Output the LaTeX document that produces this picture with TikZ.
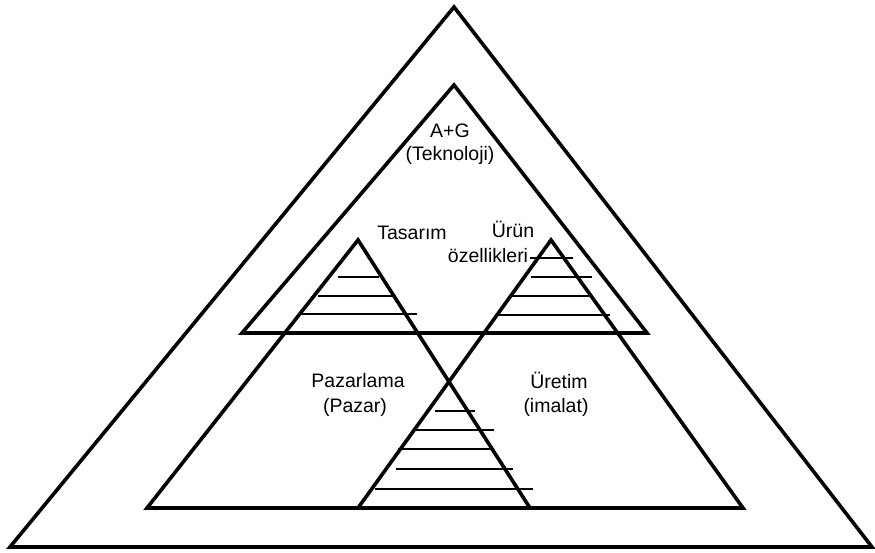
\documentclass[tikz,border=0pt]{standalone}
\usepackage{fontspec}
\setmainfont{Liberation Sans}
\begin{document}
\begin{tikzpicture}[x=1pt,y=-1pt,
  side/.style={line width=3.6pt, line join=miter},
  hatch/.style={line width=2pt},
  lbl/.style={font=\fontsize{19.5}{23}\selectfont, inner sep=0pt, anchor=base}]
\useasboundingbox[fill=white] (0,0) rectangle (875,553);
% vertices
\coordinate (O1) at (10,547);
\coordinate (O2) at (872,547);
\coordinate (Oa) at (454,7);
\coordinate (A1) at (242,333);
\coordinate (A2) at (647,333);
\coordinate (Aa) at (454,85);
\coordinate (L1) at (147,508);
\coordinate (L2) at (530,508);
\coordinate (La) at (358,240);
\coordinate (R1) at (358,508);
\coordinate (R2) at (743,508);
\coordinate (Ra) at (551,240);
% triangles
\draw[side] (O1) -- (Oa) -- (O2) -- cycle;
\draw[side] (A1) -- (Aa) -- (A2) -- cycle;
\draw[side] (L1) -- (La) -- (L2) -- cycle;
\draw[side] (R1) -- (Ra) -- (R2) -- cycle;
% hatches left
\draw[hatch] (338,277) -- (379,277);
\draw[hatch] (318,296) -- (393,296);
\draw[hatch] (300,314) -- (417,314);
% hatches right
\draw[hatch] (530,258) -- (573,258);
\draw[hatch] (531,277) -- (592,277);
\draw[hatch] (512,296) -- (589,296);
\draw[hatch] (495,315) -- (610,315);
% hatches bottom
\draw[hatch] (435,411) -- (475,411);
\draw[hatch] (414,430) -- (494,430);
\draw[hatch] (398,449) -- (494,449);
\draw[hatch] (396,469) -- (513,469);
\draw[hatch] (375,489) -- (533,489);
% labels
\node[lbl] (ag1) at (450,138) {A+G};
\node[lbl] (ag2) at (450,161) {(Teknoloji)};
\node[lbl] (tas) at (412,240) {Tasarım};
\node[lbl] (urun) at (513,238) {Ürün};
\node[lbl] (oz) at (488,263) {özellikleri};
\node[lbl] (paz1) at (358,387) {Pazarlama};
\node[lbl] (paz2) at (355,412) {(Pazar)};
\node[lbl] (ur1) at (559,388) {Üretim};
\node[lbl] (ur2) at (556,412) {(imalat)};
\end{tikzpicture}
\end{document}
